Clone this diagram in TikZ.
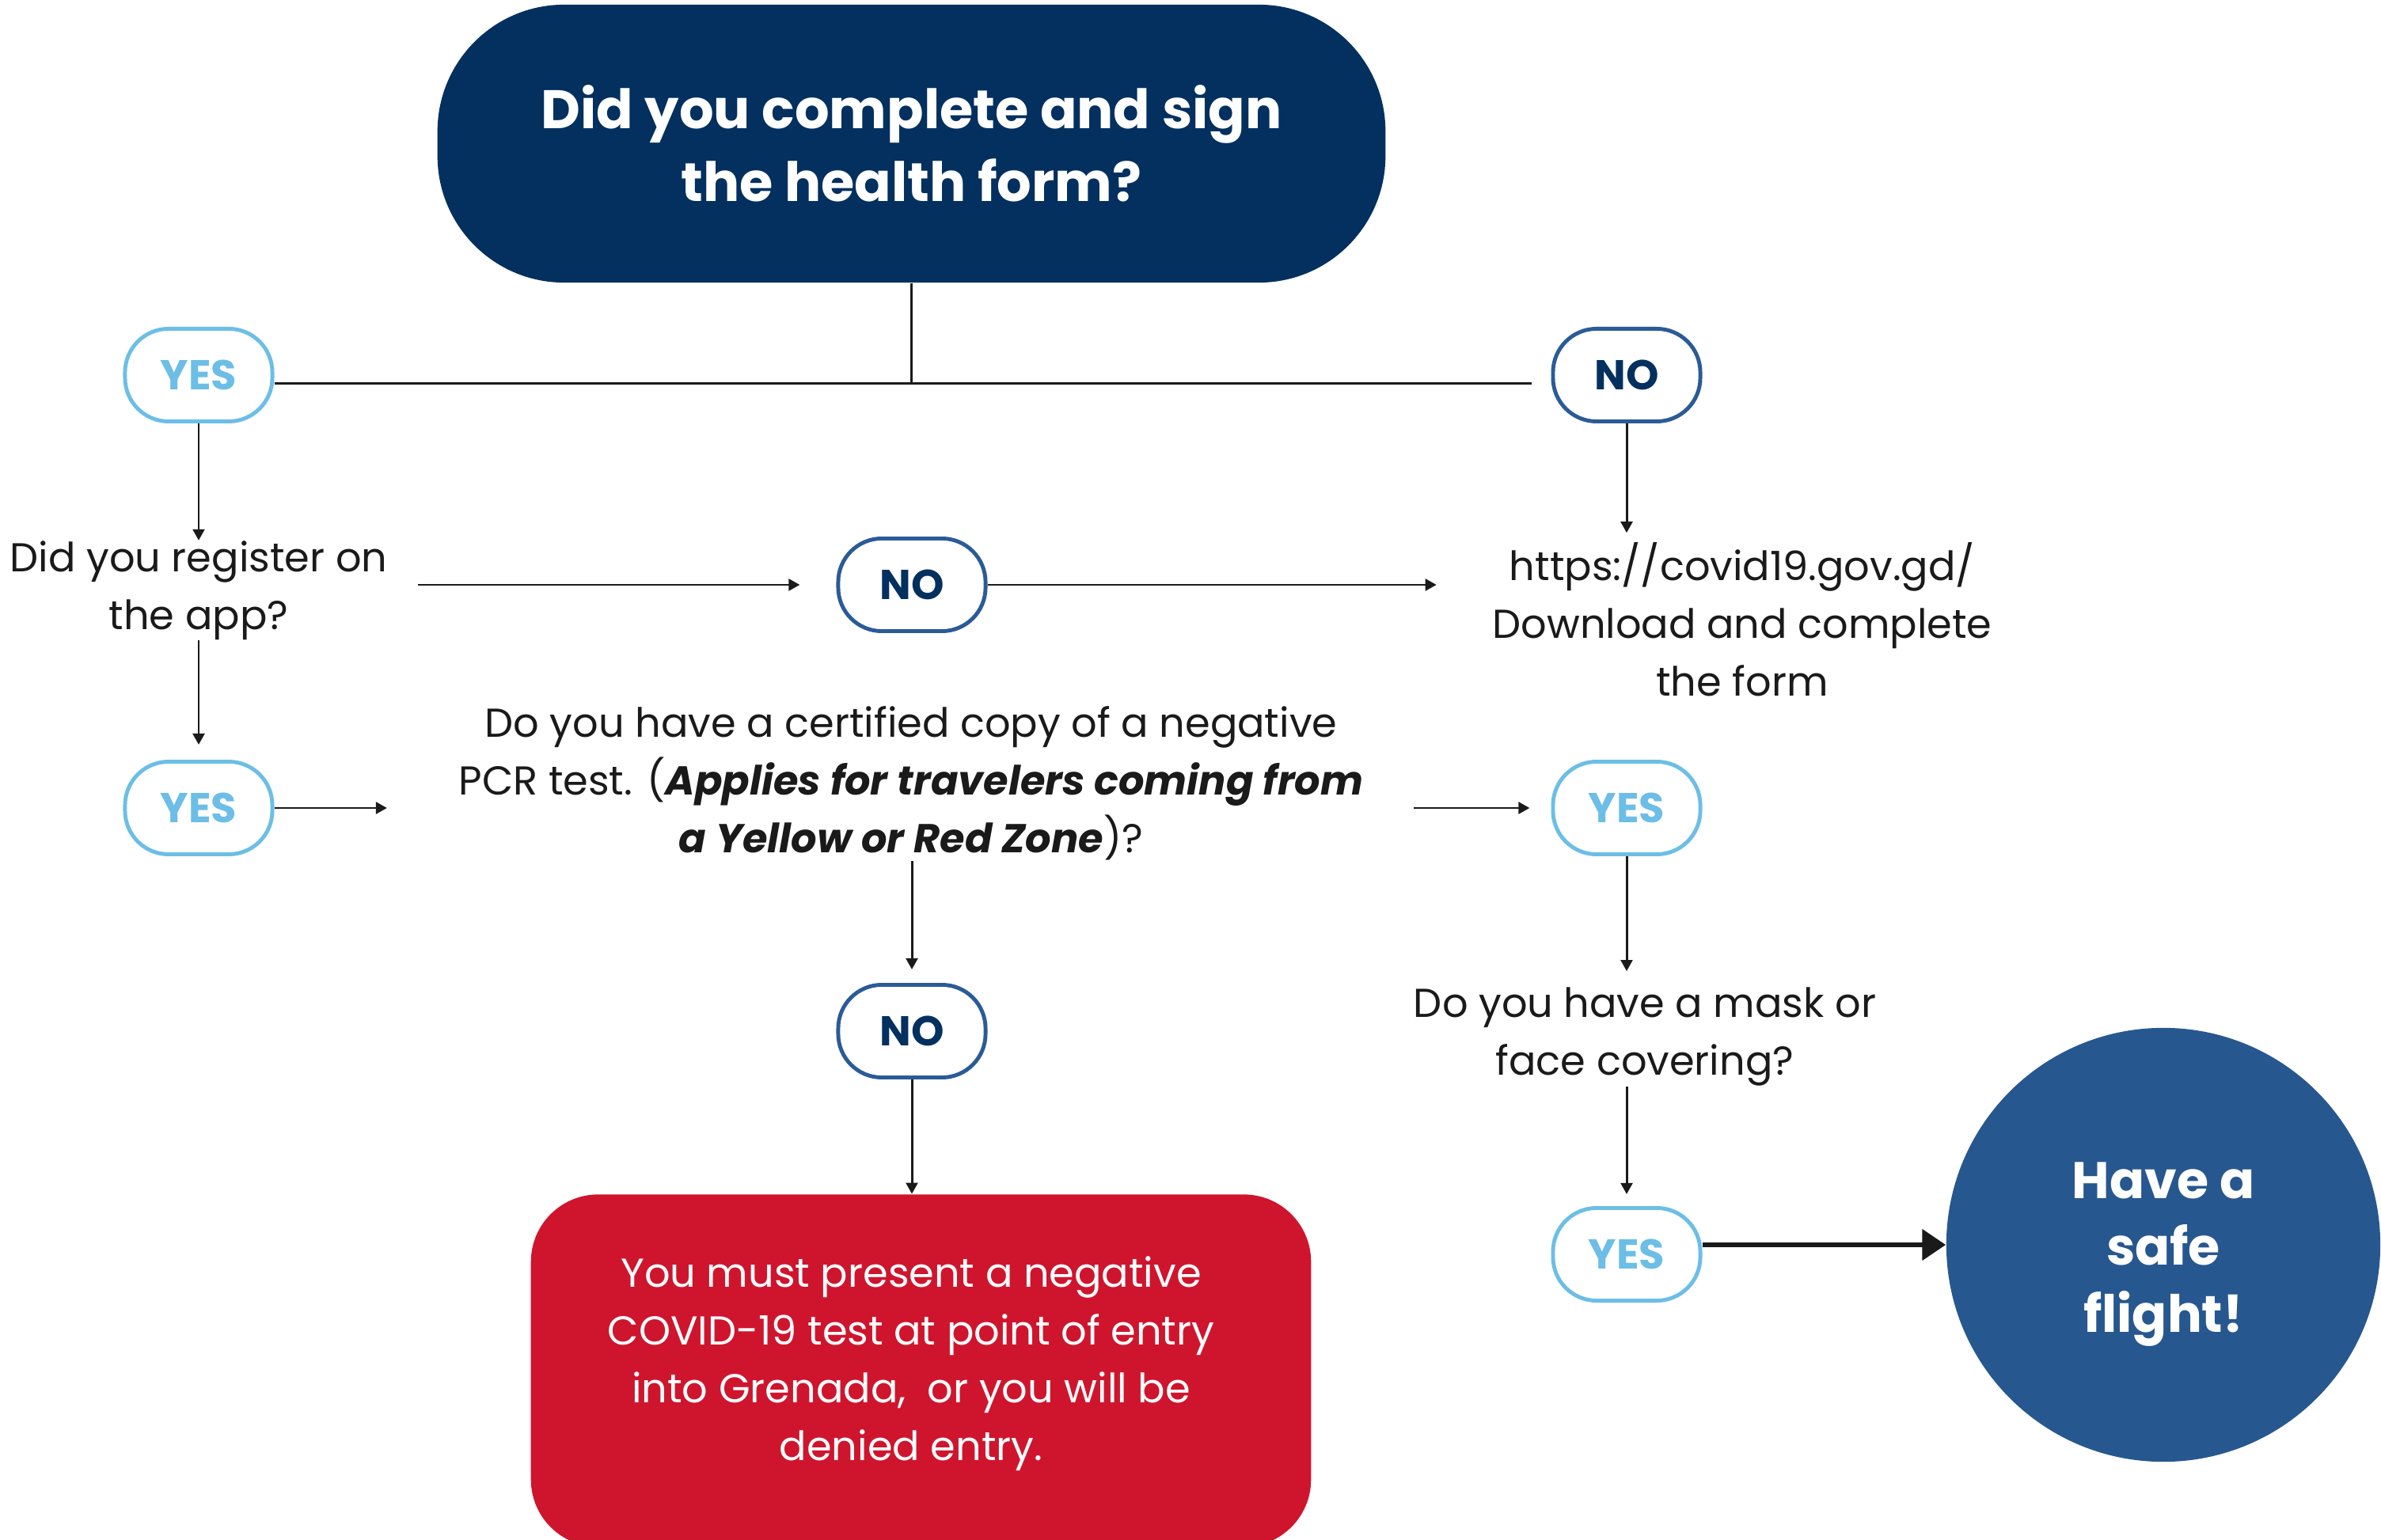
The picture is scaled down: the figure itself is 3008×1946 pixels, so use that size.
\documentclass[tikz,border=0pt]{standalone}
\usepackage{fontspec}
\setmainfont{Poppins}
\usetikzlibrary{arrows.meta}
\definecolor{navy}{HTML}{03305F}
\definecolor{noc}{HTML}{2B5B97}
\definecolor{yesc}{HTML}{6CBEE6}
\definecolor{circc}{HTML}{27578F}
\definecolor{redc}{HTML}{CF152D}
\definecolor{ink}{HTML}{1A1A1A}
\begin{document}
\begin{tikzpicture}[x=0.01cm,y=-0.01cm,
  yesnode/.style={draw=yesc, line width=1.4pt, rounded corners=0.55cm, minimum width=1.86cm, minimum height=1.17cm, text=yesc, font=\bfseries\fontsize{15}{18}\selectfont, inner sep=0pt},
  nonode/.style={yesnode, draw=noc, text=navy},
  body/.style={align=center, font=\fontsize{14.5}{20.7}\selectfont, text=ink, inner sep=0pt},
  arr/.style={-{Triangle[length=4pt,width=4.2pt]}, line width=0.85pt, draw=ink},
  ln/.style={line width=0.85pt, draw=ink}]
\clip (0,0) rectangle (3008,1946);
\useasboundingbox (0,0) rectangle (3008,1946);
% header
\node[fill=navy, rounded corners=1.6cm, minimum width=11.97cm, minimum height=3.51cm, text=white, align=center, font=\bfseries\fontsize{19.5}{26}\selectfont, inner sep=0pt] (top) at (1151.5,181.5) {Did you complete and sign\\the health form?};
% decision nodes
\node[yesnode] (yes1) at (251,474) {YES};
\node[nonode] (no1) at (2055,474) {NO};
\node[body] (app) at (251,746) {Did you register on\\the app?};
\node[nonode] (no2) at (1152,739) {NO};
\node[body] (url) at (2201,783) {https://covid19.gov.gd/\\Download and complete\\the form};
\node[yesnode] (yes2) at (251,1021) {YES};
\node[body] (pcr) at (1151,990) {Do you have a certified copy of a negative\\PCR test. (\textbf{\itshape Applies for travelers coming from}\\\textbf{\itshape a Yellow or Red Zone})?};
\node[yesnode] (yes3) at (2055,1021) {YES};
\node[body] (mask) at (2078,1310) {Do you have a mask or\\face covering?};
\node[yesnode] (yes4) at (2055,1585) {YES};
\node[nonode] (no3) at (1152,1303) {NO};
\node[fill=redc, rounded corners=0.85cm, minimum width=9.85cm, minimum height=4.45cm, inner sep=0pt] (red) at (1163.5,1732) {};
\node[body, text=white] (redtxt) at (1151,1723) {You must present a negative\\COVID-19 test at point of entry\\into Grenada,\ \ or you will be\\denied entry.};
\node[circle, fill=circc, minimum size=5.48cm, inner sep=0pt] (fly) at (2733,1573) {};
\node[text=white, align=center, font=\bfseries\fontsize{18.5}{24}\selectfont, inner sep=0pt] (flytxt) at (2733,1585) {Have a\\safe\\flight!};
% connectors
\coordinate (j) at (1151.5,485);
\draw[ln] (top.south) -- (j);
\draw[ln] (yes1.east |- j) -- ([xshift=-0.24cm]no1.west |- j);
\draw[arr] (yes1.south) -- (yes1.south |- app.north);
\draw[arr, shorten >=0.19cm] (yes2.north |- app.south) -- (yes2.north);
\draw[arr, shorten <=0.38cm, shorten >=0.46cm] (app.east |- no2.west) -- (no2.west);
\draw[arr, shorten >=0.7cm] (no2.east) -- (no2.east -| url.west);
\draw[arr, shorten >=0.12cm] (no1.south) -- (no1.south |- url.north);
\draw[arr, shorten >=0.9cm] (yes2.east) -- (yes2.east -| pcr.west);
\draw[arr, shorten <=0.63cm, shorten >=0.27cm] (pcr.east |- yes3.west) -- (yes3.west);
\draw[arr, shorten >=0.17cm] (pcr.south -| no3) -- (no3.north);
\draw[arr] (no3.south) -- (no3.south |- red.north);
\draw[arr, shorten >=0.2cm] (yes3.south) -- (yes3.south |- mask.north);
\draw[arr, shorten >=0.15cm] (mask.south -| yes4) -- (yes4.north);
\draw[line width=1.7pt, draw=ink, -{Triangle[length=8.5pt,width=11pt]}] (yes4.east |- fly.west) -- (fly.west);
\end{tikzpicture}
\end{document}
